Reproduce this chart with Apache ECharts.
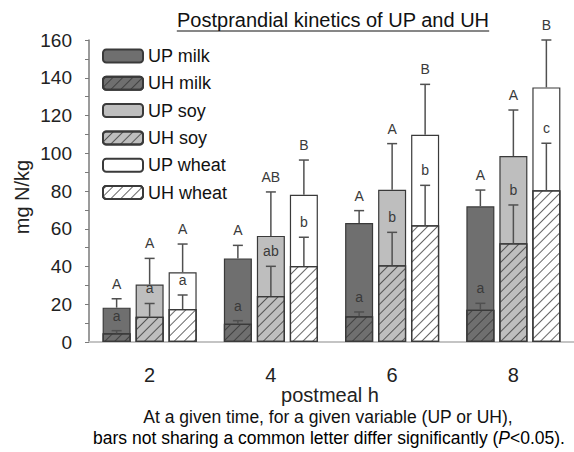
<!DOCTYPE html>
<html><head><meta charset="utf-8">
<script src="https://cdn.jsdelivr.net/npm/echarts@6/dist/echarts.min.js"></script>
<style>html,body{margin:0;padding:0;background:#fff}#c{width:574px;height:452px}</style>
</head><body><div id="c"></div>
<script>
// ---- data ----
const times = ['2', '4', '6', '8'];
const yTicks = [0, 20, 40, 60, 80, 100, 120, 140, 160];

const upMilk   = [18.2, 44.3, 63.0, 71.9];
const upMilkSD = [4.7, 6.9, 6.6, 8.6];
const uhMilk   = [4.6, 9.7, 13.6, 17.1];
const uhMilkSD = [1.4, 1.6, 2.3, 3.4];

const upSoy    = [30.4, 56.2, 80.7, 98.5];
const upSoySD  = [13.9, 23.3, 24.4, 24.4];
const uhSoy    = [13.4, 24.4, 40.6, 52.3];
const uhSoySD  = [7.0, 15.7, 17.5, 20.3];

const upWheat   = [36.9, 78.0, 109.8, 134.9];
const upWheatSD = [15.0, 18.4, 26.7, 25.1];
const uhWheat   = [17.5, 40.3, 61.8, 80.4];
const uhWheatSD = [7.4, 15.2, 21.2, 24.9];

const upMilkLet  = ['A', 'A', 'A', 'A'];
const upSoyLet   = ['A', 'AB', 'A', 'A'];
const upWheatLet = ['A', 'B', 'B', 'B'];
const uhMilkLet  = ['a', 'a', 'a', 'a'];
const uhSoyLet   = ['a', 'ab', 'b', 'b'];
const uhWheatLet = ['a', 'b', 'b', 'c'];

// ---- style ----
const FONT = '"Liberation Sans", Arial, sans-serif';
const BAR_W = 28, BAR_GAP = 5;
const colMilk = '#6f6f6f', colSoy = '#bebebe', colWheat = '#ffffff';
const BORDER = '#3a3a3a';
const hatch = {
  symbol: 'rect', symbolSize: 1, dashArrayX: [1, 0], dashArrayY: [1, 6],
  rotation: -Math.PI / 4, color: 'rgba(50,50,50,0.75)'
};

function barSeries(name, data, color, axis, decal) {
  const s = {
    name, type: 'bar', data, xAxisIndex: axis, yAxisIndex: 0,
    barWidth: BAR_W, barGap: (BAR_GAP / BAR_W * 100) + '%',
    itemStyle: { color, borderColor: BORDER, borderWidth: 1.2 },
    z: axis === 0 ? 2 : 3, animation: false
  };
  if (decal) s.itemStyle.decal = hatch;
  return s;
}

function errSeries(means, sds, letters, k) {
  return {
    type: 'custom', xAxisIndex: 0, yAxisIndex: 0, z: 10, animation: false,
    data: means.map((m, i) => [i, m, m + sds[i]]),
    renderItem(params, api) {
      const i = api.value(0);
      const c = api.coord([i, api.value(1)]);
      const t = api.coord([i, api.value(2)]);
      const x = c[0] + (k - 1) * (BAR_W + BAR_GAP);
      return {
        type: 'group', children: [
          { type: 'line', shape: { x1: x, y1: c[1], x2: x, y2: t[1] }, style: { stroke: '#505050', lineWidth: 1.5 } },
          { type: 'line', shape: { x1: x - 5, y1: t[1], x2: x + 5, y2: t[1] }, style: { stroke: '#505050', lineWidth: 1.5 } },
          { type: 'text', x: x, y: t[1] - 15, style: { text: letters[params.dataIndex], fill: '#3a3a3a', font: '14px ' + FONT, align: 'center', verticalAlign: 'middle' } }
        ]
      };
    }
  };
}

const chart = echarts.init(document.getElementById('c'), null, { renderer: 'svg' });

const ctx = document.createElement('canvas').getContext('2d');
const titleText = 'Postprandial kinetics of UP and UH';
const TITLE_FONT = '20px ' + FONT;
ctx.font = TITLE_FONT;
const tw = ctx.measureText(titleText).width;

chart.setOption({
  animation: false,
  backgroundColor: '#fff',
  grid: { left: 89, top: 40, height: 302, width: 496 },
  xAxis: [
    { type: 'category', data: times,
      axisLine: { lineStyle: { color: '#c4c4c4', width: 2 } },
      axisTick: { alignWithLabel: true, length: 5, lineStyle: { color: '#777', width: 1.2 } },
      axisLabel: { fontSize: 20, color: '#222', fontFamily: FONT, margin: 23 } },
    { type: 'category', data: times, show: false }
  ],
  yAxis: {
    type: 'value', min: 0, max: 160, interval: 10,
    axisLine: { show: true, lineStyle: { color: '#7a7a7a', width: 1.5 } },
    axisTick: { show: true, length: 4, lineStyle: { color: '#7a7a7a' } },
    splitLine: { show: false },
    axisLabel: { fontSize: 19, color: '#222', fontFamily: FONT, margin: 17,
      formatter: v => (yTicks.indexOf(v) >= 0 ? String(v) : '') }
  },
  legend: {
    orient: 'vertical', left: 97, top: 42,
    itemWidth: 40, itemHeight: 13, itemGap: 9.3,
    textStyle: { fontSize: 18, color: '#111', fontFamily: FONT, lineHeight: 18 },
    data: ['UP milk', 'UH milk', 'UP soy', 'UH soy', 'UP wheat', 'UH wheat']
  },
  graphic: [
    { type: 'text', x: 333, y: 20, style: { text: titleText, font: TITLE_FONT, fill: '#111', align: 'center', verticalAlign: 'middle' } },
    { type: 'line', shape: { x1: 333 - tw / 2, y1: 31, x2: 333 + tw / 2, y2: 31 }, style: { stroke: '#111', lineWidth: 1.2 } },
    { type: 'text', x: 22, y: 197, rotation: Math.PI / 2, style: { text: 'mg N/kg', font: '20px ' + FONT, fill: '#222', align: 'center', verticalAlign: 'middle' } },
    { type: 'text', x: 330, y: 395, style: { text: 'postmeal h', font: '20px ' + FONT, fill: '#222', align: 'center', verticalAlign: 'middle' } },
    { type: 'text', x: 328, y: 417, style: { text: 'At a given time, for a given variable (UP or UH),', font: '17.5px ' + FONT, fill: '#111', align: 'center', verticalAlign: 'middle' } },
    { type: 'text', x: 329, y: 438, style: {
        text: '{n|bars not sharing a common letter differ significantly (}{i|P}{n|<0.05).}',
        align: 'center', verticalAlign: 'middle',
        rich: { n: { fontSize: 17.5, fontFamily: FONT, color: '#111' },
                i: { fontSize: 17.5, fontFamily: FONT, fontStyle: 'italic', color: '#111' } } } }
  ],
  series: [
    barSeries('UP milk', upMilk, colMilk, 0, false),
    barSeries('UP soy', upSoy, colSoy, 0, false),
    barSeries('UP wheat', upWheat, colWheat, 0, false),
    barSeries('UH milk', uhMilk, colMilk, 1, true),
    barSeries('UH soy', uhSoy, colSoy, 1, true),
    barSeries('UH wheat', uhWheat, colWheat, 1, true),
    errSeries(upMilk, upMilkSD, upMilkLet, 0),
    errSeries(upSoy, upSoySD, upSoyLet, 1),
    errSeries(upWheat, upWheatSD, upWheatLet, 2),
    errSeries(uhMilk, uhMilkSD, uhMilkLet, 0),
    errSeries(uhSoy, uhSoySD, uhSoyLet, 1),
    errSeries(uhWheat, uhWheatSD, uhWheatLet, 2)
  ]
});
</script></body></html>
